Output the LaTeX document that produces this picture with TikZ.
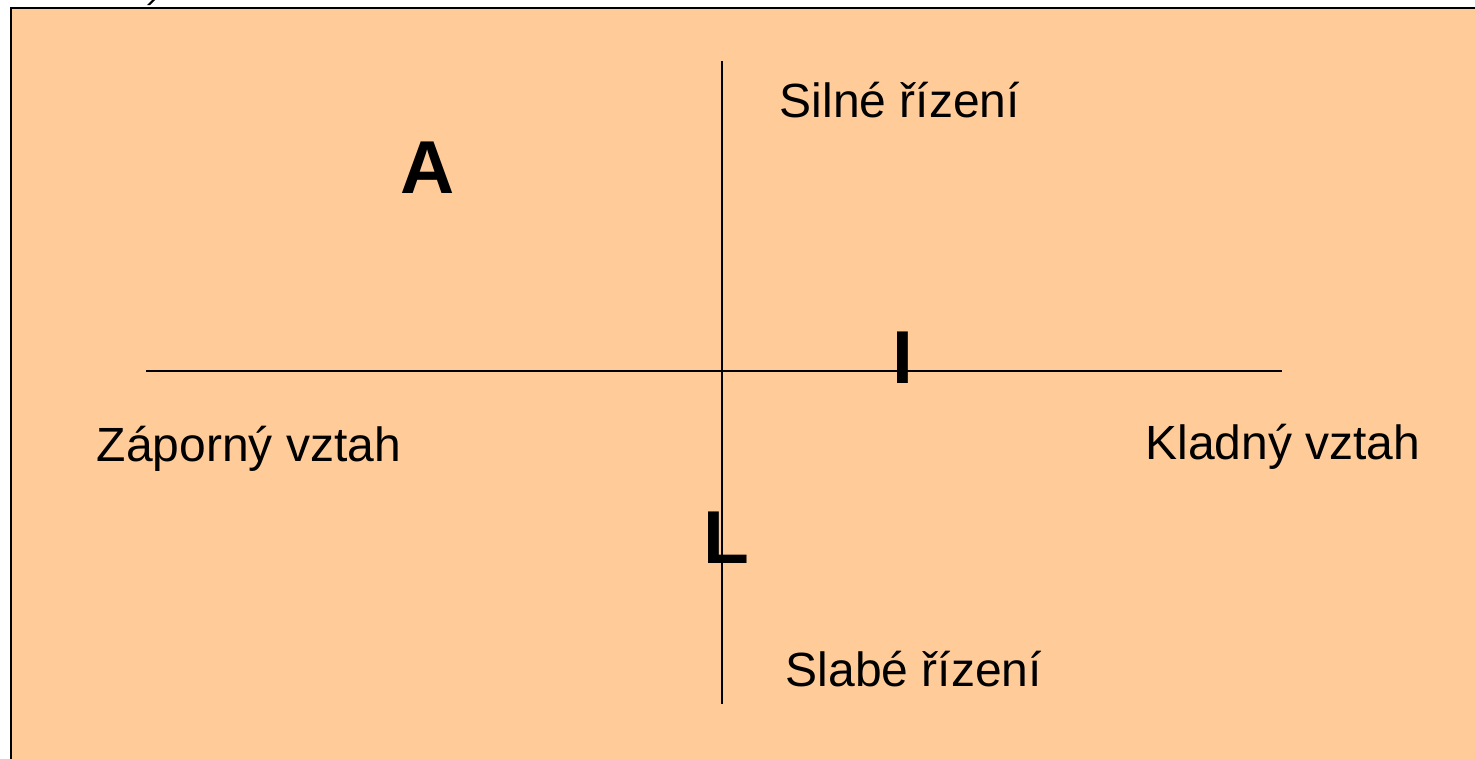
\documentclass[tikz,border=0pt]{standalone}
\usepackage{fontspec}
\setmainfont{Liberation Sans}
\definecolor{peach}{HTML}{FFCC99}
\begin{document}
\begin{tikzpicture}[x=1pt,y=-1pt,
  lbl/.style={inner sep=0pt,anchor=base,font=\fontsize{48}{52}\selectfont},
  big/.style={inner sep=0pt,anchor=base,font=\fontsize{75}{80}\selectfont\bfseries},
  axis/.style={line width=2pt,black}]
\useasboundingbox (0,0) rectangle (1475,758);
\clip (0,0) rectangle (1475,758);
\fill[white] (0,0) rectangle (1475,758);
\fill[black] (147,5) -- (150,5) -- (155,0) -- (152,0) -- cycle;
\draw[line width=2pt,fill=peach] (11,8) rectangle (1490,770);
\coordinate (vt) at (721.5,61);
\coordinate (vb) at (721.5,704);
\coordinate (hl) at (146,371);
\coordinate (hr) at (1282,371);
\draw[axis] (vt) -- (vb);
\draw[axis] (hl) -- (hr);
\node[lbl] (silne) at (900,117) {Silné řízení};
\node[lbl] (zap) at (249,461) {Záporný vztah};
\node[lbl] (klad) at (1283,459) {Kladný vztah};
\node[lbl] (slabe) at (914,686) {Slabé řízení};
\node[big] (A) at (427.5,193) {A};
\node[big] (I) at (903,383) {I};
\node[big] (L) at (726,563) {L};
\end{tikzpicture}
\end{document}
